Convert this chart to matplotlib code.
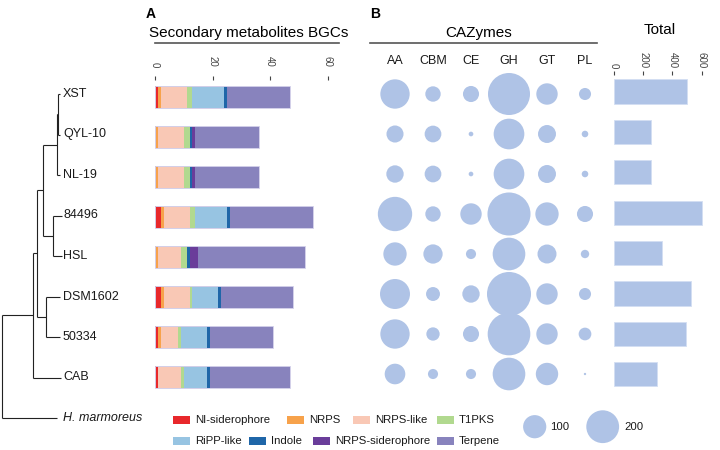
import numpy as np
import matplotlib
matplotlib.use("Agg")
import matplotlib.pyplot as plt
from matplotlib.patches import Rectangle

plt.rcParams['font.family'] = ['Liberation Sans', 'DejaVu Sans']

# ---- data ----
strains = ["XST", "QYL-10", "NL-19", "84496", "HSL", "DSM1602", "50334", "CAB"]

bgc_types = ["NI-siderophore", "NRPS", "NRPS-like", "T1PKS",
             "RiPP-like", "Indole", "NRPS-siderophore", "Terpene"]
bgc_colors = ["#E8282B", "#F7A24B", "#F9C8B5", "#B1D98F",
              "#97C4E2", "#1F66A8", "#6A3D9A", "#8883BD"]
ni_siderophore = [1, 0, 0, 2, 0, 2, 1, 1]
nrps = [1, 1, 1, 1, 1, 1, 1, 0]
nrps_like = [9, 9, 9, 9, 8, 9, 6, 8]
t1pks = [2, 2, 2, 2, 2, 1, 1, 1]
ripp_like = [11, 0, 0, 11, 0, 9, 9, 8]
indole = [1, 1, 1, 1, 1, 1, 1, 1]
nrps_siderophore = [0, 1, 1, 0, 3, 0, 0, 0]
terpene = [22, 22, 22, 29, 37, 25, 22, 28]

cazy_families = ["AA", "CBM", "CE", "GH", "GT", "PL"]
aa = [160, 54, 56, 219, 101, 167, 160, 79]
cbm = [44, 52, 52, 44, 69, 36, 33, 19]
ce = [48, 4, 4, 85, 19, 56, 48, 19]
gh = [328, 175, 175, 344, 198, 360, 338, 198]
gt = [85, 60, 60, 101, 67, 85, 85, 93]
pl = [27, 8, 8, 48, 13, 27, 30, 1]
cazy_total = [502, 255, 255, 604, 331, 527, 495, 292]
size_legend = [100, 200]

# tree: (children or name, branch length)
tree = ([
    ([
        ([
            ([
                ([([("XST", 2.0), ("QYL-10", 2.0)], 1.0), ("NL-19", 3.0)], 14.6),
                ([("84496", 8.7), ("HSL", 8.7)], 10.6),
            ], 6.0),
            ([("DSM1602", 14.3), ("50334", 14.3)], 9.0),
        ], 3.4),
        ("CAB", 27.7),
    ], 31.6),
    ("H. marmoreus", 55.0),
], 0.0)

bubble_color = "#AFC3E6"
W, H = 720, 450
fig = plt.figure(figsize=(7.2, 4.5), dpi=100)


def row_axes(left, right, top, bottom, y0, dy):
    # axes in pixel box, y data = row index (row i sits at pixel y0 + dy*i)
    ax = fig.add_axes([left / W, 1 - bottom / H, (right - left) / W, (bottom - top) / H])
    ax.set_ylim((bottom - y0) / dy, (top - y0) / dy)
    ax.patch.set_visible(False)
    for s in ax.spines.values():
        s.set_visible(False)
    ax.set_yticks([])
    return ax


def bubble_size(v):
    return 2.79 * np.asarray(v, dtype=float)


# ---- tree ----
tax = row_axes(0, 150, 0, 450, 94, 40.5)
tax.set_xlim(-1.7, 148.3)
tax.set_xticks([])
leaf_counter = [0]
tree_lw, tree_col = 0.8, "#222222"


def draw_node(node, x0):
    content, length = node
    x1 = x0 + length
    if isinstance(content, str):
        y = leaf_counter[0]
        leaf_counter[0] += 1
        tax.text(61.3, y, content, va='center', ha='left', fontsize=9,
                 style='italic' if content.startswith("H.") else 'normal', color="#1a1a1a")
    else:
        ys = [draw_node(c, x1) for c in content]
        y = (ys[0] + ys[-1]) / 2
        tax.plot([x1, x1], [ys[0], ys[-1]], color=tree_col, lw=tree_lw, solid_capstyle='butt')
    if length > 0:
        tax.plot([x0, x1], [y, y], color=tree_col, lw=tree_lw, solid_capstyle='butt')
    return y


draw_node(tree, 0.0)

rows = np.arange(len(strains))

# ---- panel A ----
axa = row_axes(155, 339, 79.5, 400, 97, 40)
bgc_values = [ni_siderophore, nrps, nrps_like, t1pks, ripp_like, indole, nrps_siderophore, terpene]
left = np.zeros(len(strains))
for vals, col in zip(bgc_values, bgc_colors):
    axa.barh(rows, vals, left=left, height=0.567, color=col, edgecolor='none')
    left += np.array(vals)
axa.barh(rows, left, height=0.567, fill=False, edgecolor="#d2cfe9", lw=0.7)
axa.set_xlim(0, 64)
axa.set_xticks([0, 20, 40, 60])
axa.xaxis.tick_top()
axa.tick_params(axis='x', labelrotation=-90, length=3, width=0.8, color='#444444',
                labelcolor='#444444', labelsize=7, pad=6)

# ---- panel B ----
axb = row_axes(370, 600, 81, 400, 94, 40)
axb.set_xlim(-25 / 38, 205 / 38)
axb.set_xticks([])
for j, vals in enumerate([aa, cbm, ce, gh, gt, pl]):
    axb.scatter(np.full(len(strains), j), rows, s=bubble_size(vals), color=bubble_color,
                edgecolors='none', clip_on=False)
    axb.text(j, (61 - 94) / 40, cazy_families[j], ha='center', va='center', fontsize=9,
             color='#1a1a1a')

# ---- total ----
axt = row_axes(614, 714.7, 75.5, 400, 91.5, 40.4)
axt.barh(rows, cazy_total, height=0.6, color=bubble_color, edgecolor='#d3def2', lw=0.6)
axt.set_xlim(0, 690)
axt.set_xticks([0, 200, 400, 600])
axt.xaxis.tick_top()
axt.tick_params(axis='x', labelrotation=-90, length=3, width=0.8, color='#444444',
                labelcolor='#444444', labelsize=7, pad=2)

# overlay for headers / legend (added last so it sits on top)
ov = fig.add_axes([0, 0, 1, 1])
ov.set_xlim(0, W)
ov.set_ylim(H, 0)
ov.axis('off')

# ---- headers ----
ov.text(146, 14.5, "A", fontsize=10, fontweight='bold', va='center', ha='left')
ov.text(370, 14.5, "B", fontsize=10, fontweight='bold', va='center', ha='left')
ov.text(249, 33, "Secondary metabolites BGCs", fontsize=11, ha='center', va='center')
ov.plot([155, 339], [43.3, 43.3], color='#555555', lw=1.2)
ov.text(479, 33, "CAZymes", fontsize=11, ha='center', va='center')
ov.plot([370, 597], [43.3, 43.3], color='#555555', lw=1.2)
ov.text(660, 30, "Total", fontsize=11, ha='center', va='center')

# ---- legend ----
patch_x = [173, 287, 353, 437, 173, 249, 313, 437]
patch_y = [420, 420, 420, 420, 441, 441, 441, 441]
for name, col, px, py in zip(bgc_types, bgc_colors, patch_x, patch_y):
    ov.add_patch(Rectangle((px, py - 4), 17, 8, color=col, lw=0))
    ov.text(px + 22, py, name, fontsize=8.2, va='center', ha='left', color='#1a1a1a')

ov.scatter([534.7, 602.7], [426.7, 426.7], s=bubble_size(size_legend), color=bubble_color,
           edgecolors='none')
for lx, v in zip([550, 624], size_legend):
    ov.text(lx, 427, str(v), fontsize=8.2, va='center', ha='left', color='#1a1a1a')

fig.savefig("out.png", dpi=100)
